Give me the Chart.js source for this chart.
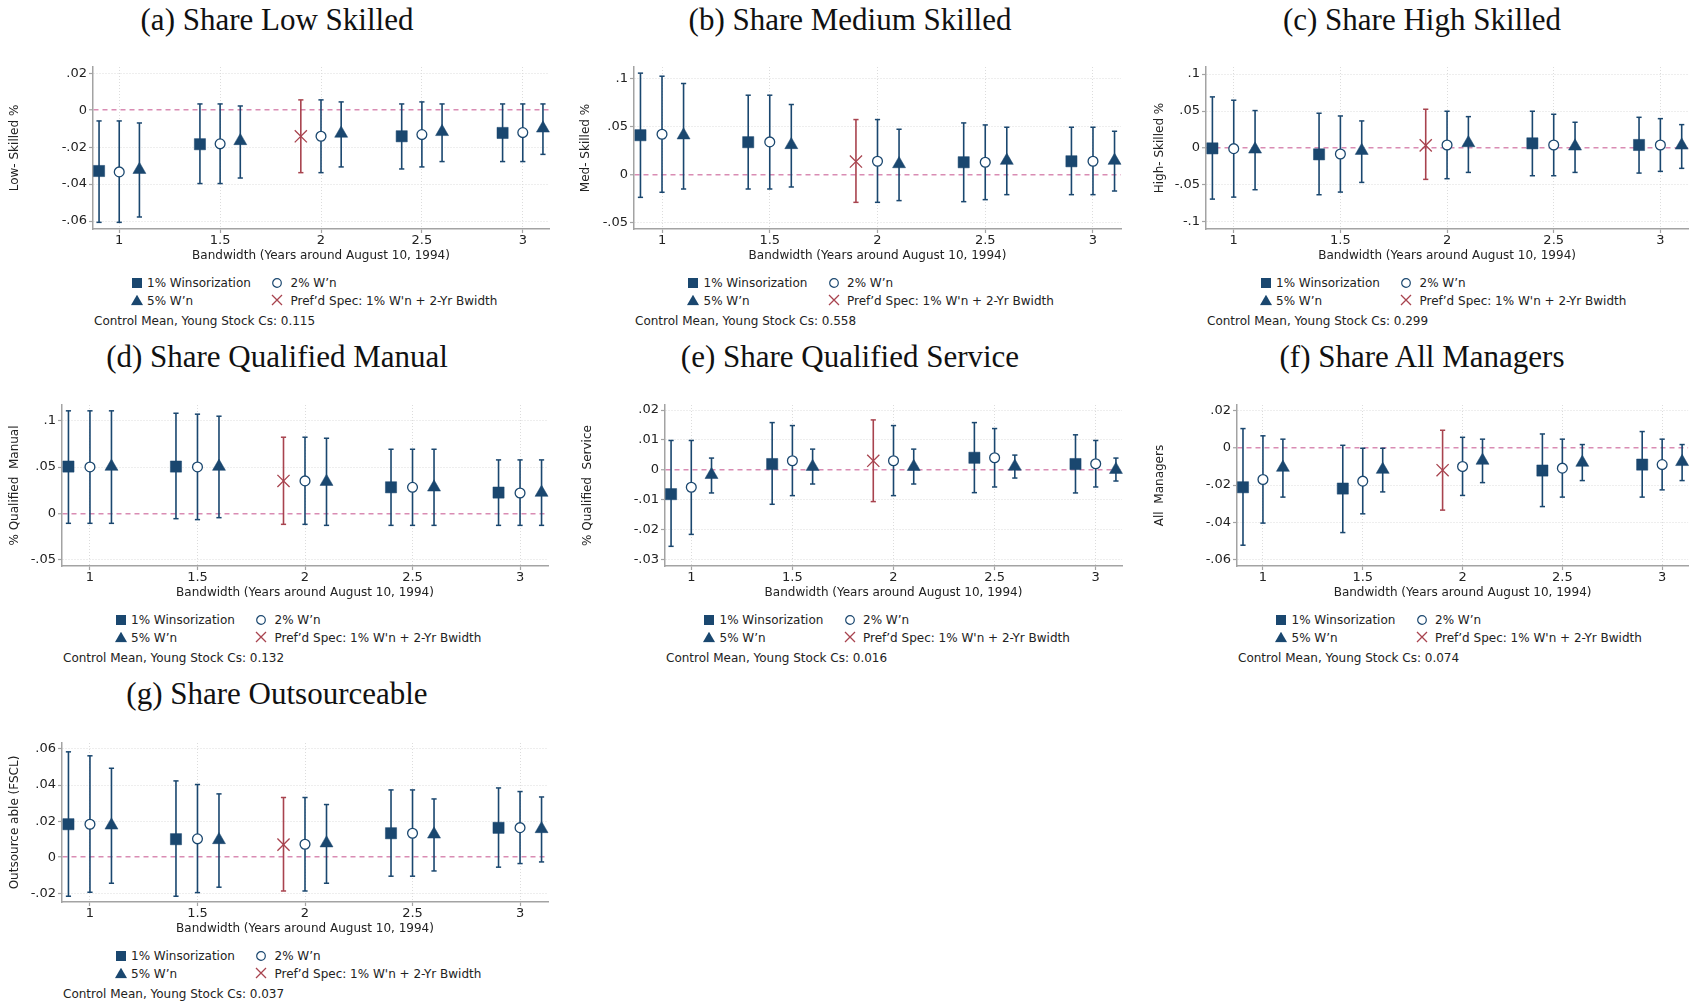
<!DOCTYPE html>
<html>
<head>
<meta charset="utf-8">
<title>Bandwidth robustness</title>
<script src="https://cdn.jsdelivr.net/npm/chart.js@4.4.1/dist/chart.umd.min.js"></script>
<style>
  html, body { margin: 0; padding: 0; background: #fff; }
  #page { position: relative; width: 1698px; height: 1005px; overflow: hidden;
          font-family: "DejaVu Sans", sans-serif; color: #222; }
  .title { position: absolute; font-family: "Liberation Serif", serif; font-size: 31px;
           color: #111; white-space: nowrap; transform: translate(-50%, -50%); }
  canvas.panel { position: absolute; }
  .leg { position: absolute; font-size: 12px; line-height: 14px; white-space: nowrap;
         transform: translateY(-50%); }
  .sym { position: absolute; transform: translate(-50%, -50%); line-height: 0; }
</style>
</head>
<body>
<div id="page"></div>
<script>
// x positions: bandwidth in years, each winsorization level nudged sideways
const bandwidths = [1, 1.5, 2, 2.5, 3];
const offsets = [-0.1, 0, 0.1];          // 1%, 2%, 5% W'n
const prefIndex = 2;                     // 1% W'n at 2-yr bandwidth = preferred spec
const xTicks = [1, 1.5, 2, 2.5, 3];
const xRange = [0.87, 3.13];

// each row: [estimate, ci low, ci high] for bandwidths 1 .. 3

// (a) Share Low Skilled
const lowW1 = [[-.0329, -.0607, -.0058], [-.0184, -.0397, .0034], [-.0141, -.0338, .0056], [-.0141, -.0318, .0034], [-.0123, -.0278, .0034]];
const lowW2 = [[-.0334, -.0607, -.0058], [-.0182, -.0397, .0034], [-.0141, -.0338, .0056], [-.0132, -.0307, .0045], [-.0121, -.0278, .0034]];
const lowW5 = [[-.0322, -.0578, -.0069], [-.0166, -.0367, .0023], [-.0126, -.0307, .0045], [-.0117, -.0278, .0034], [-.0098, -.0239, .0034]];
const lowTicks = [-.06, -.04, -.02, 0, .02];

// (b) Share Medium Skilled
const medW1 = [[.0411, -.0237, .1058], [.0338, -.0150, .0828], [.0136, -.0289, .0574], [.0129, -.0282, .0539], [.0139, -.0209, .0494]];
const medW2 = [[.0421, -.0184, .1026], [.0341, -.0150, .0828], [.0139, -.0289, .0574], [.0129, -.0261, .0518], [.0139, -.0209, .0494]];
const medW5 = [[.0411, -.0150, .0950], [.0310, -.0129, .0731], [.0111, -.0271, .0473], [.0146, -.0209, .0494], [.0146, -.0171, .0452]];
const medTicks = [-.05, 0, .05, .1];

// (c) Share High Skilled
const highW1 = [[-.0005, -.0691, .0691], [-.0086, -.0632, .0470], [.0036, -.0424, .0524], [.0063, -.0375, .0497], [.0041, -.0339, .0415]];
const highW2 = [[-.0009, -.0664, .0646], [-.0081, -.0596, .0433], [.0041, -.0415, .0497], [.0041, -.0375, .0456], [.0041, -.0316, .0397]];
const highW5 = [[-.0018, -.0564, .0506], [-.0036, -.0465, .0366], [.0068, -.0330, .0424], [.0023, -.0330, .0348], [.0036, -.0275, .0316]];
const highTicks = [-.1, -.05, 0, .05, .1];

// (d) Share Qualified Manual
const manW1 = [[.0505, -.0108, .1107], [.0505, -.0058, .1081], [.0350, -.0119, .0822], [.0281, -.0130, .0692], [.0224, -.0130, .0577]];
const manW2 = [[.0501, -.0108, .1107], [.0501, -.0068, .1071], [.0350, -.0119, .0822], [.0281, -.0130, .0692], [.0220, -.0130, .0577]];
const manW5 = [[.0505, -.0108, .1107], [.0505, -.0047, .1049], [.0342, -.0130, .0811], [.0281, -.0130, .0692], [.0224, -.0130, .0577]];
const manTicks = [-.05, 0, .05, .1];

// (e) Share Qualified Service
const servW1 = [[-.0082, -.0257, .0098], [.0019, -.0116, .0158], [.0030, -.0107, .0167], [.0040, -.0077, .0158], [.0019, -.0078, .0117]];
const servW2 = [[-.0059, -.0217, .0098], [.0030, -.0087, .0148], [.0030, -.0087, .0148], [.0040, -.0058, .0138], [.0020, -.0058, .0098]];
const servW5 = [[-.0017, -.0078, .0039], [.0010, -.0048, .0069], [.0010, -.0048, .0069], [.0011, -.0028, .0049], [.0000, -.0038, .0039]];
const servTicks = [-.03, -.02, -.01, 0, .01, .02];

// (f) Share All Managers
const mgrW1 = [[-.0212, -.0524, .0104], [-.0219, -.0456, .0014], [-.0120, -.0335, .0095], [-.0122, -.0316, .0075], [-.0090, -.0265, .0088]];
const mgrW2 = [[-.0170, -.0405, .0065], [-.0179, -.0355, -.0002], [-.0100, -.0256, .0057], [-.0109, -.0265, .0047], [-.0090, -.0226, .0047]];
const mgrW5 = [[-.0106, -.0265, .0047], [-.0117, -.0237, -.0002], [-.0068, -.0187, .0047], [-.0079, -.0176, .0018], [-.0075, -.0176, .0018]];
const mgrTicks = [-.06, -.04, -.02, 0, .02];

// (g) Share Outsourceable
const outW1 = [[.0183, -.0216, .0584], [.0100, -.0216, .0423], [.0070, -.0187, .0331], [.0133, -.0105, .0373], [.0163, -.0055, .0384]];
const outW2 = [[.0183, -.0194, .0562], [.0102, -.0196, .0403], [.0072, -.0187, .0331], [.0133, -.0105, .0373], [.0164, -.0035, .0364]];
const outW5 = [[.0177, -.0144, .0493], [.0096, -.0166, .0351], [.0078, -.0144, .0292], [.0127, -.0076, .0323], [.0157, -.0026, .0334]];
const outTicks = [-.02, 0, .02, .04, .06];

const titles = ['(a) Share Low Skilled', '(b) Share Medium Skilled', '(c) Share High Skilled',
                '(d) Share Qualified Manual', '(e) Share Qualified Service', '(f) Share All Managers',
                '(g) Share Outsourceable'];
const yTitles = ['Low- Skilled %', 'Med- Skilled %', 'High- Skilled %', '% Qualified  Manual',
                 '% Qualified  Service', 'All  Managers', 'Outsource able (FSCL)'];
const controlMeans = ['0.115', '0.558', '0.299', '0.132', '0.016', '0.074', '0.037'];
const legendLabels = ['1% Winsorization', '2% W\u2019n', '5% W\u2019n', 'Pref\u2019d Spec: 1% W\'n + 2-Yr Bwidth'];
const xTitle = 'Bandwidth (Years around August 10, 1994)';

// colours (Stata-ish)
const NAVY = '#1a476f';
const RED = '#a8434e';
const PINK = '#d98cb3';
const GRID = '#dcdcdc';
const AXIS = '#a3a3a3';

// where each panel sits on the page (plot region edges, in px)
const layout = [
    { col: 0,    L: 93,   R: 549,  T: 67,  B: 229, yMin: -.0643, yMax: .0234, yt: 15,   tx: 277,  ty: 20 },
    { col: 570,  L: 634,  R: 1121, T: 67,  B: 229, yMin: -.0567, yMax: .1122, yt: 16,   tx: 850,  ty: 20 },
    { col: 1140, L: 1206, R: 1694, T: 67,  B: 229, yMin: -.1095, yMax: .1095, yt: 19.5, tx: 1422, ty: 20 },
    { col: 0,    L: 62,   R: 548,  T: 405, B: 566, yMin: -.0569, yMax: .1170, yt: 14.5, tx: 277,  ty: 357 },
    { col: 570,  L: 665,  R: 1122, T: 405, B: 566, yMin: -.0323, yMax: .0217, yt: 17.5, tx: 850,  ty: 357 },
    { col: 1140, L: 1237, R: 1694, T: 405, B: 566, yMin: -.0636, yMax: .0231, yt: 19.5, tx: 1422, ty: 357 },
    { col: 0,    L: 62,   R: 548,  T: 743, B: 902, yMin: -.0248, yMax: .0633, yt: 15,   tx: 277,  ty: 694 }
];

const panelData = [
    [lowW1, lowW2, lowW5, lowTicks],
    [medW1, medW2, medW5, medTicks],
    [highW1, highW2, highW5, highTicks],
    [manW1, manW2, manW5, manTicks],
    [servW1, servW2, servW5, servTicks],
    [mgrW1, mgrW2, mgrW5, mgrTicks],
    [outW1, outW2, outW5, outTicks]
];

const page = document.getElementById('page');

// Stata style labels: .02, -.04, 0
function fmt(v) {
    if (v === 0) return '0';
    return String(v).replace(/^(-?)0\./, '$1.');
}

// whisker segments: lo -> hi, broken by a null point
function whiskers(rows, off, keep) {
    const pts = [];
    rows.forEach((r, i) => {
        if (!keep(i)) return;
        const x = bandwidths[i] + off;
        pts.push({ x: x, y: r[1] }, { x: x, y: r[2] }, { x: x, y: null });
    });
    return pts;
}

function markers(rows, off, keep) {
    const pts = [];
    rows.forEach((r, i) => {
        if (keep(i)) pts.push({ x: bandwidths[i] + off, y: r[0] });
    });
    return pts;
}

function addDiv(cls, html, x, y) {
    const d = document.createElement('div');
    d.className = cls;
    d.innerHTML = html;
    d.style.left = x + 'px';
    d.style.top = y + 'px';
    page.appendChild(d);
    return d;
}

const symbols = {
    square: `<svg width="10" height="10"><rect width="10" height="10" fill="${NAVY}"/></svg>`,
    circle: `<svg width="11" height="11"><circle cx="5.5" cy="5.5" r="4.3" fill="none" stroke="${NAVY}" stroke-width="1.2"/></svg>`,
    triangle: `<svg width="13" height="11"><polygon points="6.5,0.3 12.6,10.8 0.4,10.8" fill="${NAVY}"/></svg>`,
    cross: `<svg width="13" height="13"><path d="M1.5 1.5 L11.5 11.5 M11.5 1.5 L1.5 11.5" stroke="${RED}" stroke-width="1.3"/></svg>`
};

layout.forEach((p, k) => {
    const [w1, w2, w5, yTicks] = panelData[k];
    const all = () => true;
    const notPref = i => i !== prefIndex;
    const onlyPref = i => i === prefIndex;

    // title
    addDiv('title', titles[k], p.tx, p.ty);

    // canvas
    const cTop = p.T - 12;
    const cW = Math.min(p.R + 12, 1698) - p.col;
    const cH = (p.B + 36) - cTop;
    const canvas = document.createElement('canvas');
    canvas.className = 'panel';
    canvas.width = cW;
    canvas.height = cH;
    canvas.style.left = p.col + 'px';
    canvas.style.top = cTop + 'px';
    page.appendChild(canvas);

    const whiskerStyle = color => ({
        showLine: true, spanGaps: false, borderColor: color, borderWidth: 1.6,
        pointStyle: 'line', pointRadius: 2.6, pointBorderColor: color, pointBorderWidth: 1.5,
        clip: false, order: 5
    });

    const datasets = [
        Object.assign({ data: whiskers(w1, offsets[0], notPref) }, whiskerStyle(NAVY)),
        Object.assign({ data: whiskers(w2, offsets[1], all) }, whiskerStyle(NAVY)),
        Object.assign({ data: whiskers(w5, offsets[2], all) }, whiskerStyle(NAVY)),
        Object.assign({ data: whiskers(w1, offsets[0], onlyPref) }, whiskerStyle(RED)),
        {
            data: markers(w1, offsets[0], notPref), pointStyle: 'rect', pointRadius: 7.9,
            pointBackgroundColor: NAVY, pointBorderColor: NAVY, pointBorderWidth: 0.5, clip: false, order: 1
        },
        {
            data: markers(w2, offsets[1], all), pointStyle: 'circle', pointRadius: 4.9,
            pointBackgroundColor: '#fff', pointBorderColor: NAVY, pointBorderWidth: 1.3, clip: false, order: 1
        },
        {
            data: markers(w5, offsets[2], all), pointStyle: 'triangle', pointRadius: 7.5,
            pointBackgroundColor: NAVY, pointBorderColor: NAVY, pointBorderWidth: 0.5, clip: false, order: 1
        },
        {
            data: markers(w1, offsets[0], onlyPref), pointStyle: 'crossRot', pointRadius: 8.6,
            pointBorderColor: RED, pointBorderWidth: 1.3, clip: false, order: 1
        }
    ];

    new Chart(canvas, {
        type: 'scatter',
        data: { datasets: datasets },
        options: {
            responsive: false,
            animation: false,
            events: [],
            layout: { padding: { left: 0, top: 12, right: cW - (p.R - p.col), bottom: 0 } },
            plugins: { legend: { display: false }, tooltip: { enabled: false } },
            scales: {
                x: {
                    type: 'linear', min: xRange[0], max: xRange[1],
                    afterBuildTicks: s => { s.ticks = xTicks.map(v => ({ value: v })); },
                    afterFit: s => { s.height = 36; },
                    ticks: {
                        callback: v => fmt(v), padding: 0, color: '#222',
                        font: { family: 'DejaVu Sans', size: 13 }
                    },
                    grid: { color: GRID, lineWidth: 1, tickLength: 4, tickColor: AXIS, tickWidth: 1.2 },
                    border: { display: true, color: AXIS, width: 1.5, dash: [1, 2] },
                    title: {
                        display: true, text: xTitle, color: '#222', padding: { top: 0, bottom: 2 },
                        font: { family: 'DejaVu Sans', size: 12 }
                    }
                },
                y: {
                    type: 'linear', min: p.yMin, max: p.yMax,
                    afterBuildTicks: s => { s.ticks = yTicks.map(v => ({ value: v })); },
                    afterFit: s => { s.width = p.L - p.col; },
                    ticks: {
                        callback: v => fmt(v), padding: 2, color: '#222',
                        font: { family: 'DejaVu Sans', size: 13 }
                    },
                    grid: {
                        // the zero line is the pink dashed reference line
                        color: c => (c.tick && c.tick.value === 0) ? PINK : GRID,
                        lineWidth: c => (c.tick && c.tick.value === 0) ? 1.5 : 1,
                        tickLength: 4, tickColor: AXIS, tickWidth: 1.2
                    },
                    border: {
                        display: true, color: AXIS, width: 1.5,
                        dash: c => (c.tick && c.tick.value === 0) ? [5, 4] : [1, 2]
                    },
                    title: {
                        display: true, text: yTitles[k], color: '#222',
                        padding: { top: p.yt - 7.2, bottom: 0 },
                        font: { family: 'DejaVu Sans', size: 12 }
                    }
                }
            }
        }
    });

    // legend under the plot, centred on the plot region
    const sx = (p.L + p.R) / 2 - 184.5;
    const r1 = p.B + 54, r2 = p.B + 72, r3 = p.B + 92;
    addDiv('sym', symbols.square, sx, r1);
    addDiv('leg', legendLabels[0], sx + 10.5, r1);
    addDiv('sym', symbols.circle, sx + 140.5, r1);
    addDiv('leg', legendLabels[1], sx + 154, r1);
    addDiv('sym', symbols.triangle, sx, r2 - 1);
    addDiv('leg', legendLabels[2], sx + 10.5, r2);
    addDiv('sym', symbols.cross, sx + 140.5, r2 - 1);
    addDiv('leg', legendLabels[3], sx + 154, r2);
    addDiv('leg', 'Control Mean, Young Stock Cs: ' + controlMeans[k], p.L + 1, r3);
});
</script>
</body>
</html>
